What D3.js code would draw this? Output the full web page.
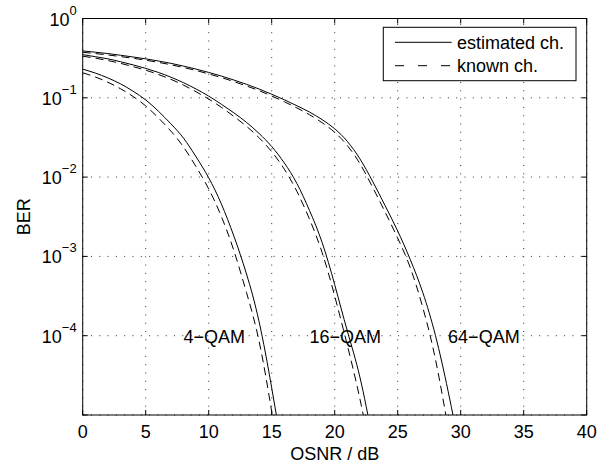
<!DOCTYPE html>
<html>
<head>
<meta charset="utf-8">
<script src="https://cdn.jsdelivr.net/npm/d3@7"></script>
<style>
  html, body { margin: 0; padding: 0; background: #fff; }
  svg { display: block; }
  text { font-family: "Liberation Sans", Arial, Helvetica, sans-serif; fill: #000; }
</style>
</head>
<body>
<svg id="chart" width="616" height="466"></svg>
<script>
// ---------------- data ----------------
const xTicks = [0, 5, 10, 15, 20, 25, 30, 35, 40];
const yTickExps = [0, -1, -2, -3, -4];
const yGridExps = [0, -1, -2, -3, -4, -5];

const osnr4 = [0,1,2,3,4,5,6,7,8,9,10,11,12,13,14,15,16];
const ber4Est = [0.23, 0.205, 0.178, 0.15, 0.121, 0.094, 0.068, 0.047, 0.031, 0.018, 0.0098, 0.0046, 0.0018, 6.0e-4, 1.5e-4, 2.2e-5, 2.5e-6];
const ber4Known = [0.207, 0.183, 0.157, 0.13, 0.104, 0.079, 0.056, 0.038, 0.024, 0.0135, 0.0071, 0.0032, 0.00118, 3.5e-4, 8.5e-5, 1.1e-5, 1.1e-6];

const osnr16 = [0,1,2,3,4,5,6,7,8,9,10,11,12,13,14,15,16,17,18,19,20,21,22,23];
const ber16Est = [0.35, 0.33, 0.31, 0.285, 0.26, 0.235, 0.209, 0.182, 0.155, 0.129, 0.105, 0.083, 0.0646, 0.049, 0.0355, 0.0243, 0.0151, 0.0083, 0.0038, 0.0015, 4.4e-4, 1.15e-4, 3.0e-5, 5.0e-6];
const ber16Known = [0.335, 0.316, 0.295, 0.272, 0.247, 0.223, 0.197, 0.171, 0.1445, 0.119, 0.0964, 0.0759, 0.0582, 0.0437, 0.0313, 0.0209, 0.0126, 0.0066, 0.00295, 0.00112, 3.16e-4, 7.6e-5, 1.6e-5, 2.5e-6];

const osnr64 = [0,1,2,3,4,5,6,7,8,9,10,11,12,13,14,15,16,17,18,19,20,21,22,23,24,25,26,27,28,29,30];
const ber64Est = [0.39, 0.376, 0.361, 0.344, 0.327, 0.31, 0.291, 0.272, 0.251, 0.23, 0.209, 0.188, 0.1675, 0.148, 0.129, 0.111, 0.0944, 0.0794, 0.0661, 0.0531, 0.0407, 0.0282, 0.0170, 0.0089, 0.00437, 0.00209, 9.1e-4, 3.47e-4, 1.0e-4, 2.0e-5, 3.2e-6];
const ber64Known = [0.375, 0.361, 0.347, 0.331, 0.315, 0.298, 0.28, 0.261, 0.241, 0.221, 0.2, 0.18, 0.16, 0.141, 0.123, 0.1054, 0.0891, 0.0745, 0.0612, 0.0485, 0.0367, 0.0250, 0.0148, 0.0075, 0.00363, 0.0017, 7.2e-4, 2.24e-4, 5.0e-5, 7.0e-6, 1.0e-6];

const curveLabels = ["4\u2212QAM", "16\u2212QAM", "64\u2212QAM"];
const curveLabelX = [8, 18, 29];
const curveLabelY = 1e-4;
const legendLabels = ["estimated ch.", "known ch."];

// ---------------- layout ----------------
const L = 82.7, R = 586.7, T = 18.5, B = 415;
const svg = d3.select("#chart");
const x = d3.scaleLinear().domain([0, 40]).range([L, R]);
const y = d3.scaleLog().domain([1e-5, 1]).range([B, T]);

svg.append("defs").append("clipPath").attr("id", "plotclip")
  .append("rect").attr("x", L).attr("y", T).attr("width", R - L).attr("height", B - T);

// grid
const grid = svg.append("g").attr("stroke", "#333").attr("stroke-width", 1)
  .attr("stroke-dasharray", "1,7.3").attr("fill", "none");
xTicks.forEach(v => {
  grid.append("line").attr("x1", x(v)).attr("x2", x(v)).attr("y1", B).attr("y2", T);
});
yGridExps.forEach(e => {
  grid.append("line").attr("x1", L).attr("x2", R).attr("y1", y(Math.pow(10, e))).attr("y2", y(Math.pow(10, e)));
});

// curves
const line = d3.line().x(d => x(d[0])).y(d => y(d[1])).curve(d3.curveNatural);
const series = [
  [osnr4, ber4Est, null], [osnr4, ber4Known, "8,5"],
  [osnr16, ber16Est, null], [osnr16, ber16Known, "8,5"],
  [osnr64, ber64Est, null], [osnr64, ber64Known, "8,5"]
];
const cg = svg.append("g").attr("clip-path", "url(#plotclip)");
series.forEach(([xs, ys, dash]) => {
  const pts = xs.map((v, i) => [v, ys[i]]);
  const p = cg.append("path").attr("d", line(pts)).attr("fill", "none")
    .attr("stroke", "#000").attr("stroke-width", 1);
  if (dash) p.attr("stroke-dasharray", dash);
});

// curve labels
curveLabels.forEach((t, i) => {
  svg.append("text").attr("x", x(curveLabelX[i])).attr("y", y(curveLabelY) + 7)
    .attr("font-size", 18).text(t);
});

// frame
svg.append("rect").attr("x", L).attr("y", T).attr("width", R - L).attr("height", B - T)
  .attr("fill", "none").attr("stroke", "#000").attr("stroke-width", 1);

// ticks
const tk = svg.append("g").attr("stroke", "#000").attr("stroke-width", 1);
const tl = 5;
xTicks.forEach(v => {
  tk.append("line").attr("x1", x(v)).attr("x2", x(v)).attr("y1", B).attr("y2", B - tl);
  tk.append("line").attr("x1", x(v)).attr("x2", x(v)).attr("y1", T).attr("y2", T + tl);
});
yGridExps.forEach(e => {
  const yy = y(Math.pow(10, e));
  tk.append("line").attr("x1", L).attr("x2", L + tl).attr("y1", yy).attr("y2", yy);
  tk.append("line").attr("x1", R).attr("x2", R - tl).attr("y1", yy).attr("y2", yy);
});

// x tick labels
xTicks.forEach(v => {
  svg.append("text").attr("x", x(v)).attr("y", B + 23).attr("text-anchor", "middle")
    .attr("font-size", 18).text(v);
});
// y tick labels
yTickExps.forEach(e => {
  const yy = y(Math.pow(10, e));
  const t = svg.append("text").attr("x", L - 6).attr("y", yy + 7).attr("text-anchor", "end")
    .attr("font-size", 18);
  t.append("tspan").text("10");
  t.append("tspan").attr("dy", -11).attr("font-size", 13)
    .text(e === 0 ? "0" : "\u2212" + Math.abs(e));
});

// axis titles
svg.append("text").attr("x", (L + R) / 2).attr("y", 460).attr("text-anchor", "middle")
  .attr("font-size", 18).text("OSNR / dB");
svg.append("text").attr("transform", `translate(30,${(T + B) / 2}) rotate(-90)`)
  .attr("text-anchor", "middle").attr("font-size", 18).text("BER");

// legend
const lg = svg.append("g");
lg.append("rect").attr("x", 383.3).attr("y", 27.3).attr("width", 576 - 383.3).attr("height", 80.7 - 27.3)
  .attr("fill", "#fff").attr("stroke", "#000").attr("stroke-width", 1);
const rowY = [42.3, 65.7];
legendLabels.forEach((t, i) => {
  const ln = lg.append("line").attr("x1", 395).attr("x2", 451.7).attr("y1", rowY[i]).attr("y2", rowY[i])
    .attr("stroke", "#000").attr("stroke-width", 1);
  if (i === 1) ln.attr("stroke-dasharray", "9,14");
  lg.append("text").attr("x", 457).attr("y", rowY[i] + 6.5).attr("font-size", 18).text(t);
});
</script>
</body>
</html>
